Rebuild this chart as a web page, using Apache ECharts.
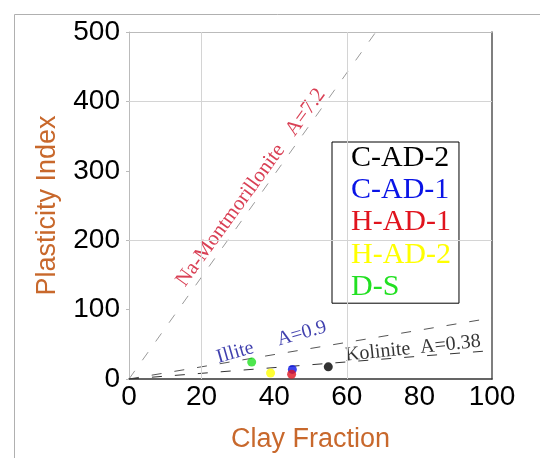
<!DOCTYPE html>
<html>
<head>
<meta charset="utf-8">
<script src="https://cdn.jsdelivr.net/npm/echarts@6/dist/echarts.min.js"></script>
<style>html,body{margin:0;padding:0;background:#fff;}#c{width:540px;height:458px;}</style>
</head>
<body>
<div id="c"></div>
<script>
// ---- data ----
var sampleNames = ['C-AD-2', 'C-AD-1', 'H-AD-1', 'H-AD-2', 'D-S'];
var sampleColors = ['#000000', '#0a14e6', '#e0141e', '#ffff00', '#22e022'];
var clayFraction = [54.9, 45.0, 44.8, 39.0, 33.8];
var plasticityIndex = [17.5, 13.8, 6.9, 8.7, 24.4];

var lineNames = ['Na-Montmorillonite', 'Illite', 'Kolinite'];
var lineStart = [[0, 0], [0, 0], [0, 0]];
var lineEnd = [[68, 500], [100, 88], [100, 41]];
var lineColors = ['#9a9a9a', '#555555', '#333333'];

var lineLabels = ['Na-Montmorillonite   A=7.2', 'Illite     A=0.9', 'Kolinite  A=0.38'];
var labelPos = [[33.6, 276], [39.3, 53], [78.2, 44]];
var labelRotate = [54, 16, 6];
var labelColors = ['#d0102a', '#10109a', '#000000'];

var xTicks = [0, 20, 40, 60, 80, 100];
var yTicks = [0, 100, 200, 300, 400, 500];
var gridX = [20, 60];
var gridY = [200, 400];

var chart = echarts.init(document.getElementById('c'), null, {renderer: 'canvas'});

var series = [];
// reference lines
lineNames.forEach(function (n, i) {
  series.push({
    name: n, type: 'line', silent: true, symbol: 'none',
    data: [lineStart[i], lineEnd[i]],
    lineStyle: {color: lineColors[i], width: 1, type: [10, 13]},
    z: 2,
    markLine: i === 0 ? {
      silent: true, symbol: 'none', label: {show: false},
      lineStyle: {color: '#d4d4d4', type: 'solid', width: 1},
      data: gridX.map(function (v) { return {xAxis: v}; })
        .concat(gridY.map(function (v) { return {yAxis: v}; }))
    } : undefined
  });
});
// line labels
series.push({
  name: 'labels', type: 'scatter', silent: true, symbolSize: 0,
  data: lineLabels.map(function (t, i) {
    return {
      value: labelPos[i], name: t,
      label: {rotate: labelRotate[i], color: labelColors[i], fontSize: i === 0 ? 21 : 20}
    };
  }),
  label: {
    show: true, position: [0, 0], align: 'center', verticalAlign: 'middle',
    formatter: function (p) { return p.name; },
    fontFamily: 'Liberation Serif, Times New Roman, serif', fontSize: 20
  },
  z: 3
});
// samples
sampleNames.forEach(function (n, i) {
  series.push({
    name: n, type: 'scatter', symbol: 'circle', symbolSize: 9,
    data: [[clayFraction[i], plasticityIndex[i]]],
    itemStyle: {color: sampleColors[i]},
    z: 5
  });
});

var axisFont = {fontFamily: 'Liberation Sans, Arial, sans-serif', fontSize: 28, color: '#000'};
var nameFont = {fontFamily: 'Liberation Sans, Arial, sans-serif', fontSize: 27, color: '#c8682c'};

chart.setOption({
  animation: false,
  backgroundColor: '#fff',
  graphic: [{
    type: 'rect', left: 12, top: 12, silent: true,
    shape: {width: 700, height: 600},
    style: {fill: 'none', stroke: '#b0b0b0', lineWidth: 1}
  }],
  grid: {left: 129, right: 48, top: 32, bottom: 63, show: false},
  legend: {
    data: sampleNames.map(function (n, i) {
      return {name: n, icon: 'none', textStyle: {color: sampleColors[i]}};
    }),
    orient: 'vertical', left: 332, top: 142,
    itemWidth: 0, itemHeight: 10, itemGap: 2.3,
    padding: [1, 8, 1, 14],
    borderColor: '#000', borderWidth: 1, backgroundColor: '#fff',
    selectedMode: false,
    textStyle: {fontFamily: 'Liberation Serif, Times New Roman, serif', fontSize: 30, lineHeight: 28}
  },
  xAxis: [{
    type: 'value', min: 0, max: 100, interval: 20,
    name: 'Clay Fraction', nameLocation: 'middle', nameGap: 47, nameTextStyle: nameFont,
    axisLine: {show: true, onZero: false, lineStyle: {color: '#333', width: 1.5}},
    axisTick: {show: false},
    axisLabel: Object.assign({margin: 4}, axisFont),
    splitLine: {show: false}
  }, {
    type: 'value', min: 0, max: 100, position: 'top',
    axisLine: {show: true, onZero: false, lineStyle: {color: '#bbbbbb'}},
    axisTick: {show: false}, axisLabel: {show: false}, splitLine: {show: false}
  }],
  yAxis: [{
    type: 'value', min: 0, max: 500, interval: 100,
    name: 'Plasticity Index', nameLocation: 'middle', nameGap: 68, nameTextStyle: nameFont,
    axisLine: {show: true, onZero: false, lineStyle: {color: '#bbbbbb'}},
    axisTick: {show: true, length: 3, lineStyle: {color: '#bbbbbb'}},
    axisLabel: Object.assign({margin: 9}, axisFont),
    splitLine: {show: false}
  }, {
    type: 'value', min: 0, max: 500, position: 'right',
    axisLine: {show: true, onZero: false, lineStyle: {color: '#555', width: 1.5}},
    axisTick: {show: false}, axisLabel: {show: false}, splitLine: {show: false}
  }],
  series: series
});
</script>
</body>
</html>
